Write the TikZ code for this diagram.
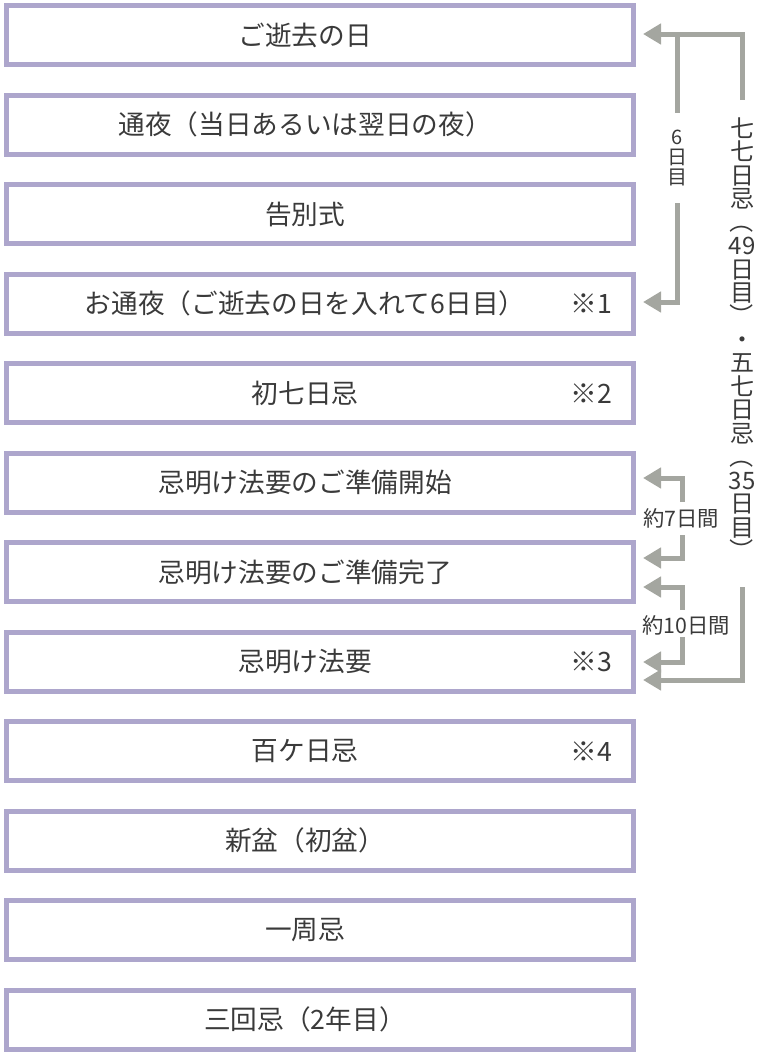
\documentclass[tikz,border=0pt]{standalone}
\usepackage{fontspec}
\setmainfont{Noto Sans CJK JP}
\usepackage{xcolor}
\usetikzlibrary{arrows.meta}
\definecolor{boxline}{RGB}{173,166,204}
\definecolor{flowgray}{RGB}{164,166,160}
\definecolor{inkgray}{RGB}{58,58,58}
\newcommand{\vopen}{\raisebox{0pt}[0.88em][0.12em]{\makebox[1em]{\rotatebox[origin=c]{-90}{（}}}}
\newcommand{\vclose}{\raisebox{0pt}[0.88em][0.12em]{\makebox[1em]{\rotatebox[origin=c]{-90}{）}}}}

\begin{document}
\begin{tikzpicture}[x=0.75pt,y=-0.75pt,
        eventbox/.style={draw=boxline, line width=3.75pt, minimum width=470.25pt, minimum height=44.6pt, inner sep=0pt},
        eventtext/.style={text=inkgray, font=\fontsize{20}{24}\selectfont},
        notetext/.style={text=inkgray, font=\fontsize{20}{24}\selectfont, anchor=east},
        smalltext/.style={text=inkgray, font=\fontsize{16}{18}\selectfont, inner sep=0pt},
        flow/.style={draw=flowgray, line width=3.75pt},
        flowarrow/.style={flow, -{Triangle[length=13.5pt, width=15pt]}}]
        \useasboundingbox (0,0) rectangle (760,1054);

        % boxes
        \node[eventbox] (b1)  at (320,35.25) {};
        \node[eventbox] (b2)  at (320,124.75) {};
        \node[eventbox] (b3)  at (320,214.25) {};
        \node[eventbox] (b4)  at (320,303.75) {};
        \node[eventbox] (b5)  at (320,393.25) {};
        \node[eventbox] (b6)  at (320,482.75) {};
        \node[eventbox] (b7)  at (320,572.25) {};
        \node[eventbox] (b8)  at (320,661.75) {};
        \node[eventbox] (b9)  at (320,751.25) {};
        \node[eventbox] (b10) at (320,840.75) {};
        \node[eventbox] (b11) at (320,930.25) {};
        \node[eventbox] (b12) at (320,1019.75) {};

        \node[eventtext] (t1)  at (305,35.25) {ご逝去の日};
        \node[eventtext] (t2)  at (305,124.75) {通夜（当日あるいは翌日の夜）};
        \node[eventtext] (t3)  at (305,214.25) {告別式};
        \node[eventtext] (t4)  at (305,303.75) {お通夜（ご逝去の日を入れて6日目）};
        \node[eventtext] (t5)  at (305,393.25) {初七日忌};
        \node[eventtext] (t6)  at (305,482.75) {忌明け法要のご準備開始};
        \node[eventtext] (t7)  at (305,572.25) {忌明け法要のご準備完了};
        \node[eventtext] (t8)  at (305,661.75) {忌明け法要};
        \node[eventtext] (t9)  at (305,751.25) {百ケ日忌};
        \node[eventtext] (t10) at (305,840.75) {新盆（初盆）};
        \node[eventtext] (t11) at (305,930.25) {一周忌};
        \node[eventtext] (t12) at (305,1019.75) {三回忌（2年目）};

        \node[notetext] (n1) at (617,303.75) {※1};
        \node[notetext] (n2) at (617,393.25) {※2};
        \node[notetext] (n3) at (617,661.75) {※3};
        \node[notetext] (n4) at (617,751.25) {※4};

        % labels on the right
        \node[text=inkgray, font=\fontsize{18}{17.6}\selectfont, align=center, inner sep=0pt] (seven) at (742,340)
            {七\\七\\日\\忌\\\vopen\\49\\日\\目\\\vclose\\・\\五\\七\\日\\忌\\\vopen\\35\\日\\目\\\vclose};
        \node[smalltext, align=center, font=\fontsize{15}{15}\selectfont] (six) at (677,158) {6\\日\\目};
        \node[smalltext] (week)  at (681,518) {約7日間};
        \node[smalltext] (tend)  at (686,625) {約10日間};

        % bends and tips
        \coordinate (topturn) at (742,34);
        \coordinate (tip1) at (643,34);
        \coordinate (sixtop) at (677,34);
        \coordinate (sixturn) at (677,302);
        \coordinate (tip4) at (643,302);
        \coordinate (tip8) at (643,680);
        \coordinate (tip6) at (643,478);
        \coordinate (tip7a) at (643,558);
        \coordinate (tip7b) at (643,587);
        \coordinate (tip8a) at (643,662);

        \draw[flowarrow] (742,100) -- (topturn) -- (tip1);
        \draw[flow] (sixtop) -- (six.north |- 0,113);
        \draw[flowarrow] (six.south |- 0,203) -- (sixturn) -- (tip4);
        \draw[flowarrow] (742,587) |- (tip8);

        \draw[flowarrow] (682,502) |- (tip6);
        \draw[flowarrow] (682,535) |- (tip7a);
        \draw[flowarrow] (682,610) |- (tip7b);
        \draw[flowarrow] (682,637) |- (tip8a);
    \end{tikzpicture}
\end{document}
